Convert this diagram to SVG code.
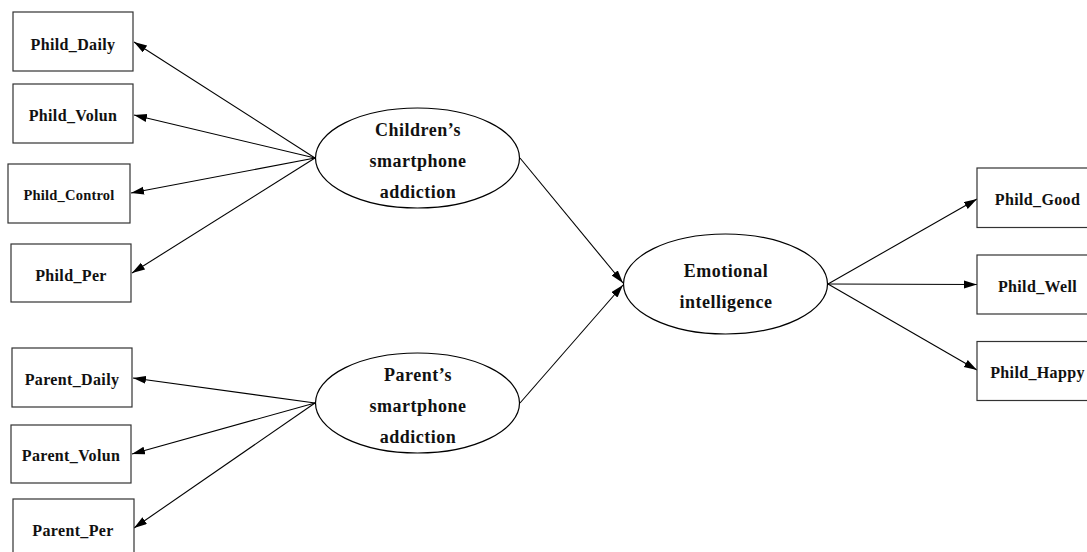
<svg xmlns="http://www.w3.org/2000/svg" width="1087" height="552" viewBox="0 0 1087 552">
<defs>
<marker id="arr" markerUnits="userSpaceOnUse" markerWidth="14" markerHeight="9" refX="13" refY="4" orient="auto">
<path d="M0,0 L13,4 L0,8 z" fill="#000"/>
</marker>
<style>
.box{fill:#fff;stroke:#333;stroke-width:1.2}
.ell{fill:#fff;stroke:#000;stroke-width:1.2}
.bt{font-family:"Liberation Serif","Times New Roman",serif;font-weight:bold;font-size:16px;letter-spacing:0.35px;text-anchor:middle;fill:#111}
.et{font-family:"Liberation Serif","Times New Roman",serif;font-weight:bold;font-size:18px;letter-spacing:0.5px;text-anchor:middle;fill:#111}
.c{stroke:#000;stroke-width:1.1;fill:none;marker-end:url(#arr)}
</style>
</defs>
<rect width="1087" height="552" fill="#fff"/>
<g id="connectors">
<line class="c" x1="315" y1="158" x2="134" y2="42"/>
<line class="c" x1="315" y1="158" x2="134" y2="115"/>
<line class="c" x1="315" y1="158" x2="131" y2="193"/>
<line class="c" x1="315" y1="158" x2="132" y2="273"/>
<line class="c" x1="315" y1="403" x2="133" y2="378"/>
<line class="c" x1="315" y1="403" x2="132" y2="454"/>
<line class="c" x1="315" y1="403" x2="134" y2="528"/>
<line class="c" x1="520" y1="158" x2="623" y2="283"/>
<line class="c" x1="520" y1="403" x2="623" y2="285"/>
<line class="c" x1="828" y1="284" x2="977" y2="199"/>
<line class="c" x1="828" y1="284" x2="977" y2="284.5"/>
<line class="c" x1="828" y1="284" x2="977" y2="370"/>
</g>
<g id="phild_daily"><rect class="box" x="13" y="12" width="120" height="59"/><text class="bt" x="73" y="50">Phild_Daily</text></g>
<g id="phild_volun"><rect class="box" x="13" y="84" width="120" height="59"/><text class="bt" x="73" y="121">Phild_Volun</text></g>
<g id="phild_control"><rect class="box" x="8" y="164" width="122" height="59"/><text class="bt" x="69" y="200" style="font-size:14.5px;letter-spacing:0.2px">Phild_Control</text></g>
<g id="phild_per"><rect class="box" x="11" y="244" width="120" height="58"/><text class="bt" x="71" y="281">Phild_Per</text></g>
<g id="parent_daily"><rect class="box" x="12" y="348" width="120" height="59"/><text class="bt" x="72" y="384.5">Parent_Daily</text></g>
<g id="parent_volun"><rect class="box" x="11" y="425" width="120" height="58"/><text class="bt" x="71" y="461">Parent_Volun</text></g>
<g id="parent_per"><rect class="box" x="13" y="499" width="121" height="60"/><text class="bt" x="73" y="535.5">Parent_Per</text></g>
<g id="childrens_addiction"><ellipse class="ell" cx="417.5" cy="158" rx="102" ry="50"/>
<text class="et" x="418" y="135.5">Children’s</text><text class="et" x="418" y="166.5">smartphone</text><text class="et" x="418" y="197.5">addiction</text></g>
<g id="parents_addiction"><ellipse class="ell" cx="417.5" cy="403" rx="102" ry="50"/>
<text class="et" x="418" y="380.5">Parent’s</text><text class="et" x="418" y="411.5">smartphone</text><text class="et" x="418" y="442.5">addiction</text></g>
<g id="emotional_intelligence"><ellipse class="ell" cx="725.5" cy="284" rx="102" ry="50"/>
<text class="et" x="726" y="276.5">Emotional</text><text class="et" x="726" y="307.5">intelligence</text></g>
<g id="phild_good"><rect class="box" x="977" y="168" width="122" height="59.5"/><text class="bt" x="1037.5" y="205">Phild_Good</text></g>
<g id="phild_well"><rect class="box" x="977" y="255" width="122" height="59"/><text class="bt" x="1037.5" y="291.5">Phild_Well</text></g>
<g id="phild_happy"><rect class="box" x="977" y="341.5" width="122" height="59"/><text class="bt" x="1037.5" y="378">Phild_Happy</text></g>
</svg>
